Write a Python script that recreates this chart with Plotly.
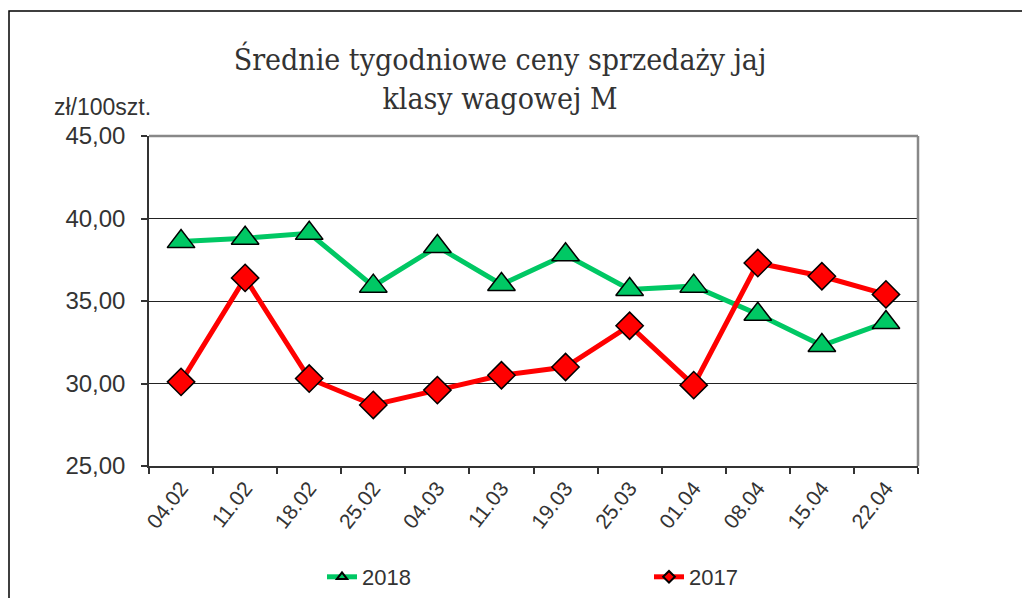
import plotly.graph_objects as go

categories = ["04.02", "11.02", "18.02", "25.02", "04.03", "11.03", "19.03",
              "25.03", "01.04", "08.04", "15.04", "22.04"]
values_2018 = [38.6, 38.8, 39.1, 35.9, 38.3, 36.0, 37.8, 35.7, 35.9, 34.2, 32.3, 33.7]
values_2017 = [30.1, 36.4, 30.3, 28.7, 29.6, 30.5, 31.0, 33.5, 29.9, 37.3, 36.5, 35.4]
y_ticks = [25, 30, 35, 40, 45]

# page body adds an 8px margin; work in screen pixels and compensate
OFF = 8
W, H = 1030, 598
# target plot-area box on screen
SX0, SX1, SY0, SY1 = 149, 918, 136, 466
ML, MT = SX0 - OFF, SY0 - OFF
MR, MB = W - (SX1 - OFF), H - (SY1 - OFF)
PW, PH = SX1 - SX0, SY1 - SY0

GREEN = "#00C864"
RED = "#FF0000"
TXT = "#333333"


def px_x(p):
    return (p - SX0) / PW


def px_y(p):
    return (SY1 - p) / PH


fig = go.Figure()
fig.add_trace(go.Scatter(
    x=categories, y=values_2018, name="2018", mode="lines+markers",
    showlegend=False,
    line=dict(color=GREEN, width=5),
    marker=dict(symbol="triangle-up", size=24, color=GREEN,
                line=dict(color="black", width=1.5)),
))
fig.add_trace(go.Scatter(
    x=categories, y=values_2017, name="2017", mode="lines+markers",
    showlegend=False,
    line=dict(color=RED, width=5),
    marker=dict(symbol="diamond", size=21, color=RED,
                line=dict(color="black", width=1.5)),
))
# legend entries (small symbols as in the original legend)
fig.add_trace(go.Scatter(
    x=[None], y=[None], name="2018", mode="lines+markers",
    line=dict(color=GREEN, width=5),
    marker=dict(symbol="triangle-up", size=9, color=GREEN,
                line=dict(color="black", width=2)),
))
fig.add_trace(go.Scatter(
    x=[None], y=[None], name="2017", mode="lines+markers",
    line=dict(color=RED, width=5),
    marker=dict(symbol="diamond", size=9, color=RED,
                line=dict(color="black", width=2)),
))

fig.update_layout(
    width=W, height=H,
    margin=dict(l=ML, r=MR, t=MT, b=MB, autoexpand=False),
    paper_bgcolor="white", plot_bgcolor="white",
    separators=", ",
    title=dict(text="Średnie tygodniowe ceny sprzedaży jaj<br>klasy wagowej M",
               x=(500 - OFF) / W, xanchor="center",
               y=1 - (70 - OFF) / H, yanchor="top",
               font=dict(family="DejaVu Serif Condensed", size=30, color=TXT)),
    showlegend=True,
    legend=dict(orientation="h", x=px_x(322), xanchor="left",
                y=px_y(577), yanchor="middle",
                entrywidth=282, entrywidthmode="pixels",
                font=dict(family="Liberation Sans", size=22, color=TXT),
                bgcolor="rgba(0,0,0,0)", itemsizing="trace"),
    xaxis=dict(type="category", tickson="boundaries", ticks="outside", ticklen=6,
               tickcolor=TXT, tickwidth=1.5, automargin=False,
               showline=True, linecolor=TXT, linewidth=1.5,
               showgrid=False, tickangle=-52,
               tickfont=dict(family="Liberation Sans", size=21, color=TXT),
               range=[-0.5, len(categories) - 0.5]),
    yaxis=dict(range=[25, 45], tickvals=y_ticks, tickformat=".2f",
               ticks="outside", ticklen=6, tickcolor=TXT, tickwidth=1.5,
               automargin=False, ticklabelstandoff=11,
               showline=True, linecolor=TXT, linewidth=1.5,
               showgrid=True, gridcolor="#222222", gridwidth=1,
               zeroline=False,
               tickfont=dict(family="Liberation Sans", size=24, color=TXT)),
    annotations=[dict(text="zł/100szt.", xref="paper", yref="paper",
                      x=px_x(52), y=px_y(107), xanchor="left", yanchor="middle",
                      showarrow=False,
                      font=dict(family="Liberation Sans", size=23, color=TXT))],
    shapes=[
        dict(type="line", xref="paper", yref="paper", x0=0, x1=1, y0=1, y1=1,
             line=dict(color="#888888", width=2.5), layer="above"),
        dict(type="line", xref="paper", yref="paper", x0=1, x1=1, y0=0, y1=1,
             line=dict(color="#888888", width=2.5), layer="above"),
        dict(type="rect", xref="paper", yref="paper",
             x0=px_x(9), x1=px_x(1045), y0=px_y(620), y1=px_y(11),
             line=dict(color="black", width=1.5), layer="below"),
    ],
)

fig.write_html("out.html")
